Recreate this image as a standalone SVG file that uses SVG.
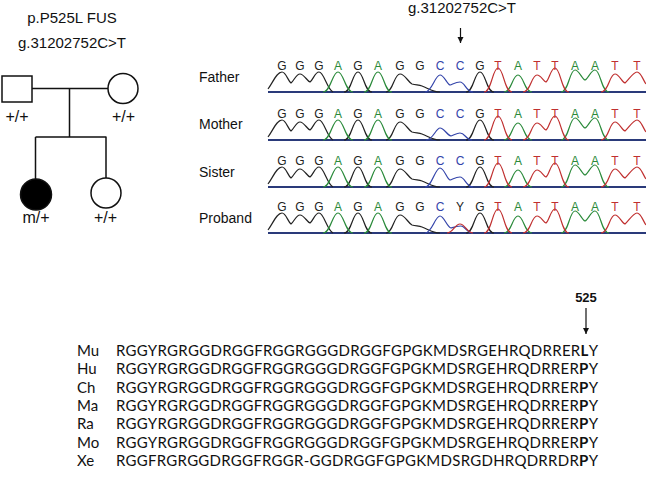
<svg xmlns="http://www.w3.org/2000/svg" width="646" height="485" viewBox="0 0 646 485">
<style>
.t{font-family:"Liberation Sans",Arial,sans-serif;fill:#111}
.ln{stroke:#111;stroke-width:1.5;fill:none}
.sym{stroke:#111;stroke-width:1.5;fill:#fff}
.bk{stroke:#222;stroke-width:1.2;fill:none}
.gr{stroke:#2a8a3a;stroke-width:1.2;fill:none}
.rd{stroke:#c03030;stroke-width:1.2;fill:none}
.bl{stroke:#3344aa;stroke-width:1.2;fill:none}
.base{stroke:#2a3a7a;stroke-width:1.8;fill:none}
.b{font-family:"Liberation Sans",Arial,sans-serif;font-size:12px;text-anchor:middle}
.bG{fill:#222}.bA{fill:#2a8a3a}.bC{fill:#3344aa}.bT{fill:#c03030}
.lab{font-family:"Liberation Sans",Arial,sans-serif;font-size:14px;fill:#111}
.seq{font-family:Lato,"Open Sans",sans-serif;font-size:15px;fill:#111}
</style>
<defs>
<marker id="ah" markerUnits="userSpaceOnUse" markerWidth="6" markerHeight="7" viewBox="0 0 6 7" refX="6" refY="3.5" orient="auto">
<path d="M0,0.5 L6,3.5 L0,6.5 Z" fill="#111"/>
</marker>
<g id="common">
<path class="base" d="M268 0 H646"/>
<path class="bk" d="M268 -3 C273 -10 277 -20 282 -20 C286 -20 288 -11 291 -9 C294 -11 296 -18 300 -18 C304 -18 307 -11 310 -10 C313 -12 315 -20 319 -20 C324 -20 327 -3 333 0 M344 0 C351.7 0 352.4 -20 358 -20 C363.6 -20 364.3 0 372 0 M386 0 C393 0 394 -18 400 -18 C405 -18 408 -10 412 -8 C416 -7 419 -7 422 -6 C428 -4 432 0 440 0 M466 0 C473.7 0 474.4 -20 480 -20 C485.6 -20 486.3 0 494 0"/>
<path class="gr" d="M323 0 C330.7 0 332.4 -20 338 -20 C343.6 -20 345.3 0 353 0 M364 0 C371.7 0 372.4 -20 378 -20 C383.6 -20 384.3 0 392 0 M504 0 C511.7 0 512.4 -17 518 -17 C523.6 -17 524.3 0 532 0 M561 0 C568.7 0 569.4 -22 575 -22 C579 -22 582 -13 585 -12 C588 -13 591 -22 595 -22 C600.6 -22 601.3 0 609 0"/>
<path class="rd" d="M484 0 C491.7 0 492.4 -24 498 -24 C503.6 -24 504.3 0 512 0 M523 0 C530.7 0 531.4 -17 537 -17 C541 -17 543 -11 546 -10 C549 -12 551 -24 555 -24 C560.6 -24 561.3 0 569 0 M601 0 C608.7 0 609.4 -18 615 -18 C619 -18 622 -10 625 -9 C628 -11 633 -20 637 -20 C641 -20 643 -12 646 -8"/>
<g class="b">
<text x="282" y="-22" class="bG">G</text><text x="300" y="-22" class="bG">G</text><text x="319" y="-22" class="bG">G</text><text x="338" y="-22" class="bA">A</text><text x="358" y="-22" class="bG">G</text><text x="378" y="-22" class="bA">A</text><text x="400" y="-22" class="bG">G</text><text x="420" y="-22" class="bG">G</text><text x="440" y="-22" class="bC">C</text><text x="480" y="-22" class="bG">G</text><text x="498" y="-22" class="bT">T</text><text x="518" y="-22" class="bA">A</text><text x="537" y="-22" class="bT">T</text><text x="555" y="-22" class="bT">T</text><text x="575" y="-22" class="bA">A</text><text x="595" y="-22" class="bA">A</text><text x="615" y="-22" class="bT">T</text><text x="637" y="-22" class="bT">T</text>
</g>
</g>
</defs>

<!-- Pedigree -->
<g id="pedigree-title">
<text class="t" x="72" y="23" font-size="15" text-anchor="middle">p.P525L FUS</text>
<text class="t" x="72" y="48" font-size="15" text-anchor="middle">g.31202752C&gt;T</text>
</g>
<g id="connectors">
<path class="ln" d="M32 88.5 H108 M69.5 88.5 V137 M35.5 137 H106.5 M35.5 137 V180 M106 137 V178"/>
</g>
<g id="father"><rect class="sym" x="2" y="76" width="30" height="26"/><text class="t" x="17" y="122" font-size="16" text-anchor="middle">+/+</text></g>
<g id="mother"><circle class="sym" cx="123" cy="88.5" r="15"/><text class="t" x="123.5" y="122" font-size="16" text-anchor="middle">+/+</text></g>
<g id="proband"><circle cx="36" cy="194.5" r="15.5" fill="#000" stroke="#111" stroke-width="1.5"/><text class="t" x="36" y="223" font-size="16" text-anchor="middle">m/+</text></g>
<g id="sister"><circle class="sym" cx="106" cy="193" r="15"/><text class="t" x="105.5" y="223" font-size="16" text-anchor="middle">+/+</text></g>

<!-- Chromatograms -->
<g id="chrom-title">
<text class="t" x="462" y="13" font-size="15" text-anchor="middle">g.31202752C&gt;T</text>
<line x1="460.5" y1="28" x2="460.5" y2="43" stroke="#111" stroke-width="1.2" marker-end="url(#ah)"/>
</g>
<g id="row-father">
<text class="lab" x="199" y="82">Father</text>
<g transform="translate(0,92)"><use href="#common"/>
<path class="bl" d="M425 0 C432 0 435 -17 440 -17 C444 -17 447 -8 450 -7 C453 -8 456 -10 460 -10 C465 -10 466 0 473 0"/>
<text class="b bC" x="460" y="-22">C</text></g>
</g>
<g id="row-mother">
<text class="lab" x="199" y="129">Mother</text>
<g transform="translate(0,140)"><use href="#common"/>
<path class="bl" d="M426 0 C433 0 436 -12 440 -12 C444 -12 447 -5 451 -4 C454 -5 457 -7 460 -7 C465 -7 466 0 472 0"/>
<text class="b bC" x="460" y="-22">C</text></g>
</g>
<g id="row-sister">
<text class="lab" x="199" y="177">Sister</text>
<g transform="translate(0,187)"><use href="#common"/>
<path class="bl" d="M425 0 C432 0 435 -19 440 -19 C444 -19 447 -8 450 -7 C453 -8 456 -10 460 -10 C465 -10 466 0 473 0"/>
<text class="b bC" x="460" y="-22">C</text></g>
</g>
<g id="row-proband">
<text class="lab" x="199" y="223">Proband</text>
<g transform="translate(0,233)"><use href="#common"/>
<path class="bl" d="M425 0 C432 0 435 -17 440 -17 C444 -17 447 -6 451 -5 C454 -6 456 -7 461 -7 C465 -7 467 0 473 0"/>
<path class="rd" d="M447 0 C453 0 455 -9 460 -9 C465 -9 467 0 473 0"/>
<text class="b bG" x="460" y="-22">Y</text></g>
</g>

<!-- Sequence alignment -->
<g id="alignment">
<text x="586" y="302" font-family="Liberation Sans, Arial, sans-serif" font-size="13" font-weight="bold" text-anchor="middle" fill="#111">525</text>
<line x1="586" y1="308" x2="586" y2="334" stroke="#111" stroke-width="1.2" marker-end="url(#ah)"/>
<g class="seq">
<text x="77" y="356">Mu</text>
<text x="77" y="374.3">Hu</text>
<text x="77" y="392.7">Ch</text>
<text x="77" y="411">Ma</text>
<text x="77" y="429.3">Ra</text>
<text x="77" y="447.7">Mo</text>
<text x="77" y="466">Xe</text>
<text x="116" y="356" textLength="482" lengthAdjust="spacing">RGGYRGRGGDRGGFRGGRGGGDRGGFGPGKMDSRGEHRQDRRER<tspan font-weight="bold">L</tspan>Y</text>
<text x="116" y="374.3" textLength="482" lengthAdjust="spacing">RGGYRGRGGDRGGFRGGRGGGDRGGFGPGKMDSRGEHRQDRRER<tspan font-weight="bold">P</tspan>Y</text>
<text x="116" y="392.7" textLength="482" lengthAdjust="spacing">RGGYRGRGGDRGGFRGGRGGGDRGGFGPGKMDSRGEHRQDRRER<tspan font-weight="bold">P</tspan>Y</text>
<text x="116" y="411" textLength="482" lengthAdjust="spacing">RGGYRGRGGDRGGFRGGRGGGDRGGFGPGKMDSRGEHRQDRRER<tspan font-weight="bold">P</tspan>Y</text>
<text x="116" y="429.3" textLength="482" lengthAdjust="spacing">RGGYRGRGGDRGGFRGGRGGGDRGGFGPGKMDSRGEHRQDRRER<tspan font-weight="bold">P</tspan>Y</text>
<text x="116" y="447.7" textLength="482" lengthAdjust="spacing">RGGYRGRGGDRGGFRGGRGGGDRGGFGPGKMDSRGEHRQDRRER<tspan font-weight="bold">P</tspan>Y</text>
<text x="116" y="466" textLength="482" lengthAdjust="spacing">RGGFRGRGGDRGGFRGGR-GGDRGGFGPGKMDSRGDHRQDRRDR<tspan font-weight="bold">P</tspan>Y</text>
</g>
</g>
</svg>
